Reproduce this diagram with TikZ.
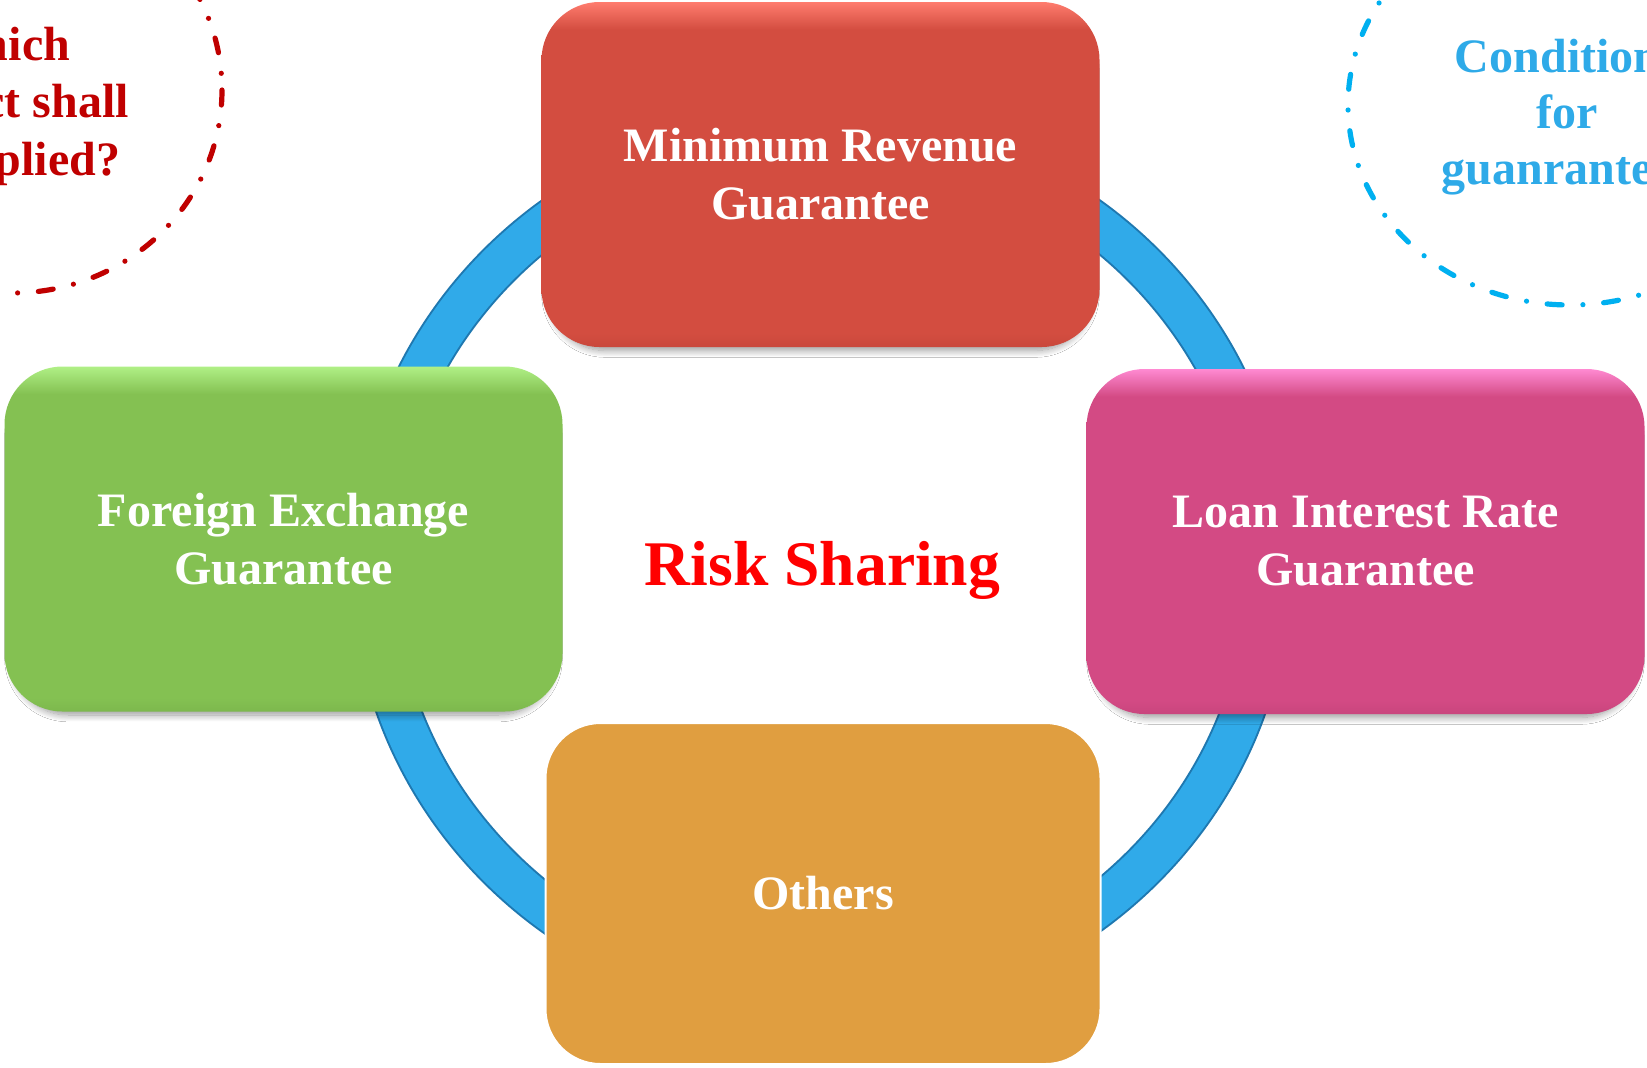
\documentclass[tikz,border=0pt]{standalone}
\usepackage{fontspec}
\setmainfont{Liberation Serif}
\usetikzlibrary{shadows.blur}

% palette
\definecolor{ringFill}{HTML}{30AAE9}
\definecolor{ringEdge}{HTML}{1F78B0}
\definecolor{mrgBase}{HTML}{D34D40}
\definecolor{mrgTop}{HTML}{FF7C6E}
\definecolor{mrgLow}{HTML}{C9483C}
\definecolor{fxBase}{HTML}{84C152}
\definecolor{fxTop}{HTML}{B0F086}
\definecolor{fxLow}{HTML}{7DB84D}
\definecolor{lirBase}{HTML}{D34A84}
\definecolor{lirTop}{HTML}{FF8AD2}
\definecolor{lirLow}{HTML}{C9457D}
\definecolor{othBase}{HTML}{E09E40}
\definecolor{qRed}{HTML}{C00000}
\definecolor{qBlue}{HTML}{00B0F0}
\definecolor{qBlueText}{HTML}{2EAAE8}
\definecolor{coreRed}{HTML}{FF0000}

% vertical bevel shadings: a light rim along the top edge of each box
\pgfdeclareverticalshading{mrgShade}{100bp}{color(0bp)=(mrgLow); color(25bp)=(mrgLow); color(27bp)=(mrgBase); color(71bp)=(mrgBase); color(75bp)=(mrgTop); color(100bp)=(mrgTop)}
\pgfdeclareverticalshading{fxShade}{100bp}{color(0bp)=(fxLow); color(25bp)=(fxLow); color(27bp)=(fxBase); color(71bp)=(fxBase); color(75bp)=(fxTop); color(100bp)=(fxTop)}
\pgfdeclareverticalshading{lirShade}{100bp}{color(0bp)=(lirLow); color(25bp)=(lirLow); color(27bp)=(lirBase); color(71bp)=(lirBase); color(75bp)=(lirTop); color(100bp)=(lirTop)}

\begin{document}
\begin{tikzpicture}[x=0.5pt,y=-0.5pt,
  boxtext/.style={text=white, align=center, inner sep=0pt,
    font=\bfseries\fontsize{24}{29}\selectfont},
  guarbox/.style={boxtext, rectangle, rounded corners=29pt,
    minimum width=279pt, minimum height=172.5pt,
    blur shadow={shadow xshift=0pt, shadow yshift=-4pt, shadow scale=0.975,
      shadow blur radius=3.5pt, shadow blur steps=12, shadow opacity=40}},
  otherbox/.style={boxtext, rectangle, rounded corners=27.5pt,
    fill=othBase, draw=white, line width=1pt,
    minimum width=277.5pt, minimum height=170.5pt},
  dashring/.style={line width=2.6pt, line cap=round,
    dash pattern=on 7.5pt off 10.4pt on 0pt off 10.4pt},
  notetext/.style={align=center, inner sep=0pt,
    font=\bfseries\fontsize{24}{28.75}\selectfont}]

\clip (0,0) rectangle (1647,1067);
\fill[white] (0,0) rectangle (1647,1067);

% blue ring behind the four boxes
\draw[ringEdge, line width=22.5pt] (821,566) ellipse [x radius=448, y radius=433];
\draw[ringFill, line width=20.5pt] (821,566) ellipse [x radius=448, y radius=433];

% the four guarantee boxes
\node[guarbox, shading=mrgShade] (mrg) at (820.5,174.5) {Minimum Revenue\\Guarantee};
\node[guarbox, shading=fxShade]  (fx)  at (283.5,539)   {Foreign Exchange\\Guarantee};
\node[guarbox, shading=lirShade] (lir) at (1365.5,541.5) {Loan Interest Rate\\Guarantee};
\node[otherbox] (oth) at (823,893.5) {Others};

% centre title
\node[text=coreRed, inner sep=0pt, anchor=base,
      font=\bfseries\fontsize{31.8}{37}\selectfont] (core) at (822.5,585) {Risk Sharing};

% question bubble, upper left
\draw[qRed, dashring] (12,90) ellipse [x radius=210, y radius=203];
\node[notetext, text=qRed] (quest) at (2,106) {Which\\project shall\\be applied?};

% condition bubble, upper right
\draw[qBlue, dashring] (1570,105) ellipse [x radius=222, y radius=200];
\node[notetext, text=qBlueText, font=\bfseries\fontsize{24}{28}\selectfont] (cond) at (1567,117) {Conditions\\for\\guanrantees};

\end{tikzpicture}
\end{document}
